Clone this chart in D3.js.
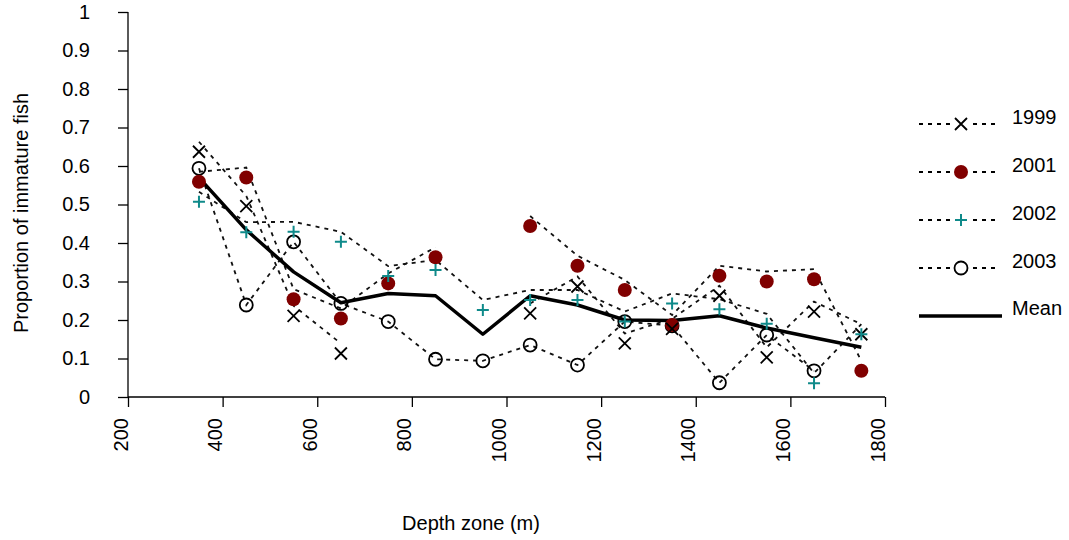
<!DOCTYPE html>
<html>
<head>
<meta charset="utf-8">
<script src="https://cdn.jsdelivr.net/npm/d3@7"></script>
<style>
  html, body { margin: 0; padding: 0; background: #fff; }
  svg { display: block; font-family: "Liberation Sans", Arial, sans-serif; }
</style>
</head>
<body>
<svg id="chart" width="1069" height="540"></svg>
<script>
// ---- data ----
const depths = [350, 450, 550, 650, 750, 850, 950, 1050, 1150, 1250, 1350, 1450, 1550, 1650, 1750];
const y1999 = [0.637, 0.496, 0.211, 0.113, null, null, null, 0.217, 0.287, 0.139, 0.177, 0.263, 0.103, 0.222, 0.163];
const y2001 = [0.559, 0.570, 0.254, 0.204, 0.295, 0.363, null, 0.444, 0.341, 0.278, 0.187, 0.315, 0.300, 0.306, 0.068];
const y2002 = [0.507, 0.428, 0.429, 0.403, 0.314, 0.330, 0.226, 0.252, 0.252, 0.196, 0.243, 0.228, 0.190, 0.036, 0.163];
const y2003 = [0.594, 0.239, 0.403, 0.243, 0.196, 0.098, 0.094, 0.135, 0.083, 0.196, 0.185, 0.037, 0.161, 0.068, null];
const yMean = [0.570, 0.434, 0.325, 0.245, 0.269, 0.263, 0.163, 0.263, 0.239, 0.200, 0.199, 0.211, 0.179, 0.154, 0.129];
const xTicks = [200, 400, 600, 800, 1000, 1200, 1400, 1600, 1800];
const yTicks = [0, 0.1, 0.2, 0.3, 0.4, 0.5, 0.6, 0.7, 0.8, 0.9, 1];
const seriesNames = ["1999", "2001", "2002", "2003"];

// ---- layout ----
const svg = d3.select("#chart");
const x = d3.scaleLinear().domain([200, 1800]).range([128, 885]);
const y = d3.scaleLinear().domain([0, 1]).range([397, 12]);
const FS = 20;
// the dotted year lines in the original are drawn slightly above their markers
const lineShift = [-10, -10, -10, 0];

// y axis
const yAxis = svg.append("g").attr("transform", "translate(128,0)")
  .call(d3.axisLeft(y).tickValues(yTicks).tickSize(10).tickPadding(28)
    .tickFormat(d => d === 0 ? "0" : d === 1 ? "1" : d3.format(".1f")(d)));
yAxis.select(".domain").attr("stroke", "#000").attr("stroke-width", 1.3).attr("d", "M0,12V397");
yAxis.selectAll(".tick line").attr("stroke", "#000").attr("stroke-width", 1.3);
yAxis.selectAll(".tick text").attr("font-size", FS).attr("fill", "#000")
  .attr("font-family", "Liberation Sans, Arial, sans-serif");

// x axis
const xAxis = svg.append("g").attr("transform", "translate(0,397)")
  .call(d3.axisBottom(x).tickValues(xTicks).tickSize(10).tickFormat(d3.format("d")));
xAxis.select(".domain").attr("stroke", "#000").attr("stroke-width", 1.3).attr("d", "M128,0H885");
xAxis.selectAll(".tick line").attr("stroke", "#000").attr("stroke-width", 1.3);
xAxis.selectAll(".tick text")
  .attr("font-size", FS).attr("fill", "#000")
  .attr("font-family", "Liberation Sans, Arial, sans-serif")
  .attr("transform", "rotate(-90)")
  .attr("text-anchor", "end")
  .attr("x", -21).attr("y", -1).attr("dy", 0);

// axis titles
svg.append("text").attr("x", 471).attr("y", 530).attr("text-anchor", "middle")
  .attr("font-size", FS).text("Depth zone (m)");
svg.append("text").attr("transform", "translate(28,213) rotate(-90)").attr("text-anchor", "middle")
  .attr("font-size", FS).text("Proportion of immature fish");

// ---- series ----
const seriesData = [y1999, y2001, y2002, y2003];
const lineGen = d3.line().defined(d => d[1] != null).x(d => x(d[0])).y(d => y(d[1]));
const plot = svg.append("g");

seriesData.forEach((vals, si) => {
  plot.append("path")
    .datum(depths.map((d, i) => [d, vals[i]]))
    .attr("transform", `translate(0,${lineShift[si]})`)
    .attr("fill", "none").attr("stroke", "#111").attr("stroke-width", 1.8)
    .attr("stroke-dasharray", "4,5").attr("d", lineGen);
});

// mean line
plot.append("path")
  .datum(depths.map((d, i) => [d, yMean[i]]))
  .attr("fill", "none").attr("stroke", "#000").attr("stroke-width", 3.5)
  .attr("stroke-linejoin", "round").attr("d", lineGen);

// marker drawers
function drawX(g, cx, cy, s) {
  g.append("path").attr("d", `M${cx - s},${cy - s}L${cx + s},${cy + s}M${cx - s},${cy + s}L${cx + s},${cy - s}`)
    .attr("stroke", "#000").attr("stroke-width", 1.8).attr("fill", "none");
}
function drawDot(g, cx, cy, r) {
  g.append("circle").attr("cx", cx).attr("cy", cy).attr("r", r).attr("fill", "#800000");
}
function drawPlus(g, cx, cy, s) {
  g.append("path").attr("d", `M${cx - s},${cy}H${cx + s}M${cx},${cy - s}V${cy + s}`)
    .attr("stroke", "#0f8a8a").attr("stroke-width", 2).attr("fill", "none");
}
function drawCircle(g, cx, cy, r) {
  g.append("circle").attr("cx", cx).attr("cy", cy).attr("r", r)
    .attr("fill", "none").attr("stroke", "#000").attr("stroke-width", 1.8);
}
const drawers = [
  (g, cx, cy) => drawX(g, cx, cy, 6),
  (g, cx, cy) => drawDot(g, cx, cy, 7),
  (g, cx, cy) => drawPlus(g, cx, cy, 6),
  (g, cx, cy) => drawCircle(g, cx, cy, 6.5)
];
const drawOrder = [3, 1, 0, 2];
drawOrder.forEach(si => {
  const vals = seriesData[si];
  depths.forEach((d, i) => {
    if (vals[i] != null) drawers[si](plot, x(d), y(vals[i]));
  });
});

// ---- legend ----
const leg = svg.append("g");
const legY = [124, 172, 220, 268];
seriesNames.forEach((name, i) => {
  leg.append("line").attr("x1", 919).attr("x2", 995).attr("y1", legY[i]).attr("y2", legY[i])
    .attr("stroke", "#000").attr("stroke-width", 1.8).attr("stroke-dasharray", "4,5");
  const bgR = 7;
  leg.append("rect").attr("x", 961 - bgR - 2).attr("y", legY[i] - bgR).attr("width", 2 * bgR + 4).attr("height", 2 * bgR)
    .attr("fill", "#fff");
  drawers[i](leg, 961, legY[i]);
  leg.append("text").attr("x", 1012).attr("y", legY[i]).attr("font-size", FS).text(name);
});
leg.append("line").attr("x1", 919).attr("x2", 1002).attr("y1", 316).attr("y2", 316)
  .attr("stroke", "#000").attr("stroke-width", 3.5);
leg.append("text").attr("x", 1012).attr("y", 315).attr("font-size", FS).text("Mean");
</script>
</body>
</html>
